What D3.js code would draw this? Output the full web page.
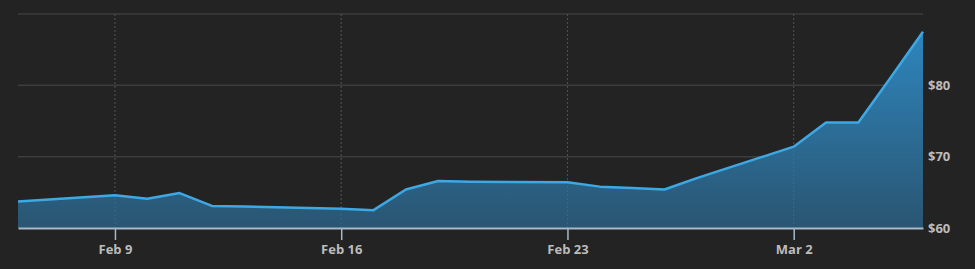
<!DOCTYPE html>
<html>
<head>
<meta charset="utf-8">
<script src="https://cdn.jsdelivr.net/npm/d3@7"></script>
<style>
html,body{margin:0;padding:0;background:#232323;}
svg{display:block;}
text{font-family:"Open Sans","Noto Sans",sans-serif;font-weight:700;}
</style>
</head>
<body>
<svg id="chart" width="975" height="269"></svg>
<script>
const dates = ["2015-02-06","2015-02-09","2015-02-10","2015-02-11","2015-02-12","2015-02-13",
  "2015-02-16","2015-02-17","2015-02-18","2015-02-19","2015-02-20","2015-02-23","2015-02-24",
  "2015-02-25","2015-02-26","2015-02-27","2015-03-02","2015-03-03","2015-03-04","2015-03-05","2015-03-06"];
const prices = [63.7,64.6,64.1,64.9,63.1,63.0,62.7,62.5,65.4,66.6,66.5,66.4,65.8,65.6,65.4,67.0,71.4,74.8,74.8,81.1,87.5];
const xTickDates = ["2015-02-09","2015-02-16","2015-02-23","2015-03-02"];
const xTickLabels = ["Feb 9","Feb 16","Feb 23","Mar 2"];
const yGrid = [60,70,80,90];
const yTickValues = [60,70,80];

(function(){
const parse = d3.utcParse("%Y-%m-%d");
const data = dates.map((d,i)=>({date:parse(d), value:prices[i]}));

const svg = d3.select("#chart");
const mLeft = 18, mRight = 923, mTop = 14, mBottom = 228;

const x = d3.scaleUtc().domain([parse("2015-02-06"), parse("2015-03-06")]).range([mLeft,mRight]);
const y = d3.scaleLinear().domain([60,90]).range([mBottom,mTop]);

const defs = svg.append("defs");
const grad = defs.append("linearGradient").attr("id","areaGrad")
  .attr("gradientUnits","userSpaceOnUse").attr("x1",0).attr("x2",0).attr("y1",y(90)).attr("y2",y(60));
grad.append("stop").attr("offset","0%").attr("stop-color","#2f8fcc");
grad.append("stop").attr("offset","100%").attr("stop-color","#2a5876");

// horizontal grid
svg.append("g").selectAll("line").data(yGrid.filter(v=>v!==60)).join("line")
  .attr("x1",mLeft).attr("x2",mRight)
  .attr("y1",d=>y(d)).attr("y2",d=>y(d))
  .attr("stroke","#3d3d3d").attr("stroke-width",1.5);

// vertical dotted grid
svg.append("g").selectAll("line").data(xTickDates).join("line")
  .attr("x1",d=>x(parse(d))).attr("x2",d=>x(parse(d)))
  .attr("y1",y(90)).attr("y2",mBottom)
  .attr("stroke","#404040").attr("stroke-width",1).attr("stroke-dasharray","2,2");

// area
const area = d3.area().x(d=>x(d.date)).y0(y(60)).y1(d=>y(d.value));
svg.append("path").datum(data).attr("d",area).attr("fill","url(#areaGrad)").attr("opacity",0.95);

// vertical dotted grid over area (faint)
svg.append("g").selectAll("line").data(xTickDates).join("line")
  .attr("x1",d=>x(parse(d))).attr("x2",d=>x(parse(d)))
  .attr("y1",y(90)).attr("y2",mBottom)
  .attr("stroke","rgba(120,140,160,0.25)").attr("stroke-width",1).attr("stroke-dasharray","2,2");

// line
const line = d3.line().x(d=>x(d.date)).y(d=>y(d.value));
svg.append("path").datum(data).attr("d",line).attr("fill","none")
  .attr("stroke","#3ea8e5").attr("stroke-width",2.5).attr("stroke-linejoin","round");

// x axis
const xAxis = d3.axisBottom(x)
  .tickValues(xTickDates.map(parse))
  .tickFormat((d,i)=>xTickLabels[i])
  .tickSizeInner(12).tickSizeOuter(0).tickPadding(5);
const gx = svg.append("g").attr("transform",`translate(0,${mBottom})`).call(xAxis);
gx.select(".domain").attr("stroke","#a8b8c8").attr("stroke-width",2);
gx.selectAll(".tick line").attr("stroke","#a8b8c8").attr("stroke-width",1.5);
gx.selectAll(".tick text").attr("fill","#bcbcbc").attr("font-size",13)
  .attr("font-family","'Open Sans','Noto Sans',sans-serif").attr("font-weight",700);

// y axis
const yAxis = d3.axisRight(y).tickValues(yTickValues).tickFormat(d=>"$"+d).tickSize(0).tickPadding(5);
const gy = svg.append("g").attr("transform",`translate(${mRight},0)`).call(yAxis);
gy.select(".domain").remove();
gy.selectAll(".tick text").attr("fill","#bcbcbc").attr("font-size",13)
  .attr("font-family","'Open Sans','Noto Sans',sans-serif").attr("font-weight",700);
})();
</script>
</body>
</html>
